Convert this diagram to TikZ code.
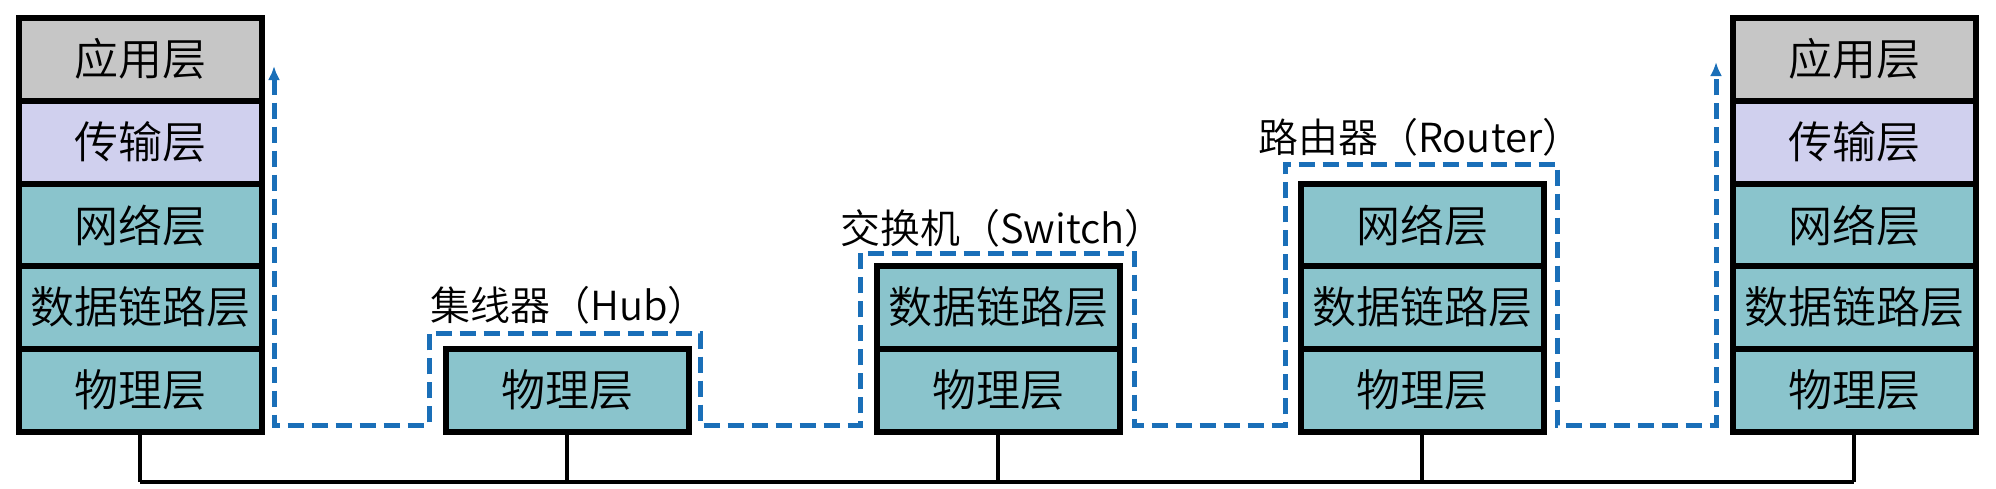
\documentclass[tikz,border=0pt]{standalone}
\usepackage{fontspec}
\setmainfont{Noto Sans CJK SC DemiLight}
\usetikzlibrary{arrows.meta}
\begin{document}
\begin{tikzpicture}[x=1pt,y=-1pt,
  lay/.style={draw=black,line width=5.5pt,minimum width=#1,minimum height=83pt,inner sep=0pt,anchor=north west,font=\fontsize{44}{48}\selectfont},
  lay/.default=243pt,
  app/.style={fill=gray!45},
  tra/.style={fill={rgb,255:red,208;green,208;blue,238}},
  tea/.style={fill={rgb,255:red,138;green,196;blue,204}},
  path/.style={draw={rgb,255:red,26;green,111;blue,184},line width=5pt,dash pattern=on 16pt off 8pt},
  lbl/.style={anchor=west,inner sep=0pt,font=\fontsize{40}{44}\selectfont},
  bus/.style={line width=4pt}]
\useasboundingbox (0,0) rectangle (1996,488);
% left host
\node[lay,app] (a1) at (16,15) {应用层};
\node[lay,tra] (a2) at (16,98) {传输层};
\node[lay,tea] (a3) at (16,181) {网络层};
\node[lay,tea] (a4) at (16,263) {数据链路层};
\node[lay,tea] (a5) at (16,346) {物理层};
% hub
\node[lay,tea] (h1) at (443,346) {物理层};
\node[lbl] (hl) at (430,305) {集线器（Hub）};
% switch
\node[lay,tea] (s1) at (874,263) {数据链路层};
\node[lay,tea] (s2) at (874,346) {物理层};
\node[lbl] (sl) at (840,228) {交换机（Switch）};
% router
\node[lay,tea] (r1) at (1298,181) {网络层};
\node[lay,tea] (r2) at (1298,263) {数据链路层};
\node[lay,tea] (r3) at (1298,346) {物理层};
\node[lbl] (rl) at (1258,137) {路由器（Router）};
% right host
\node[lay,app] (b1) at (1730,15) {应用层};
\node[lay,tra] (b2) at (1730,98) {传输层};
\node[lay,tea] (b3) at (1730,181) {网络层};
\node[lay,tea] (b4) at (1730,263) {数据链路层};
\node[lay,tea] (b5) at (1730,346) {物理层};
% bus
\coordinate (busL) at (a5.south |- 0,482);
\coordinate (busR) at (b5.south |- 0,482);
\draw[bus] (busL) -- (busR);
\foreach \n in {a5,h1,s2,r3,b5} \draw[bus] (\n.south) -- (\n.south |- busL);
% dashed path
\coordinate (p0) at (274,425);
\coordinate (pe) at (1716,425);
\draw[path,{Latex[length=14pt,width=12pt]}-{Latex[length=14pt,width=12pt]}] (274,66) -- (p0) -- (429,425) -- (429,333) -- (700,333) -- (700,425)
  -- (860,425) -- (860,253) -- (1134,253) -- (1134,425)
  -- (1285,425) -- (1285,164) -- (1557,164) -- (1557,425) -- (pe) -- (1716,62);
\end{tikzpicture}
\end{document}
